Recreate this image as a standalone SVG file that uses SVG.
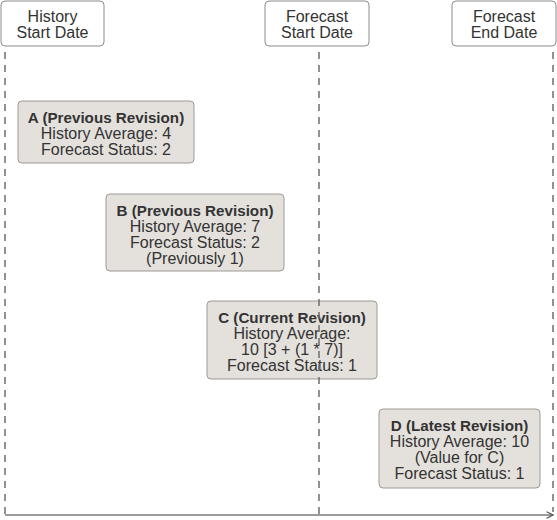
<svg xmlns="http://www.w3.org/2000/svg" width="557" height="520" viewBox="0 0 557 520">
<defs>
<style>
.hdr{fill:#fff;stroke:#8f8b87;stroke-width:1}
.box{fill:#e4e1dd;stroke:#9e9a95;stroke-width:1}
text{font-family:"Liberation Sans",Arial,sans-serif;font-size:16px;fill:#333;text-anchor:middle}
.b{font-weight:bold;font-size:15.2px}
.dash{stroke:#6e6e6e;stroke-width:1.5;stroke-dasharray:7 6;fill:none}
.axis{stroke:#7a7a7a;stroke-width:1.5;fill:none}
</style>
<marker id="arr" viewBox="0 0 10 10" refX="9" refY="5" markerWidth="8" markerHeight="8" markerUnits="userSpaceOnUse" orient="auto">
<path d="M1,1 L9,5 L1,9" fill="none" stroke="#555" stroke-width="1.5"/>
</marker>
</defs>
<g id="header-history">
<rect class="hdr" x="1" y="1" width="103" height="45" rx="4"/>
<text x="52.5" y="22">History</text>
<text x="52.5" y="38">Start Date</text>
</g>
<g id="header-forecast-start">
<rect class="hdr" x="265" y="1" width="104" height="45" rx="4"/>
<text x="317" y="22">Forecast</text>
<text x="317" y="38">Start Date</text>
</g>
<g id="header-forecast-end">
<rect class="hdr" x="452" y="1" width="104" height="45" rx="4"/>
<text x="504" y="22">Forecast</text>
<text x="504" y="38">End Date</text>
</g>
<g id="node-a">
<rect class="box" x="18" y="101" width="176" height="62" rx="4"/>
<text class="b" x="106" y="123">A (Previous Revision)</text>
<text x="106" y="139">History Average: 4</text>
<text x="106" y="155">Forecast Status: 2</text>
</g>
<g id="node-b">
<rect class="box" x="106" y="194" width="178" height="77" rx="4"/>
<text class="b" x="195" y="216">B (Previous Revision)</text>
<text x="195" y="232">History Average: 7</text>
<text x="195" y="248">Forecast Status: 2</text>
<text x="195" y="264">(Previously 1)</text>
</g>
<g id="node-c">
<rect class="box" x="207" y="301" width="170" height="78" rx="4"/>
<text class="b" x="292" y="323">C (Current Revision)</text>
<text x="292" y="339">History Average:</text>
<text x="292" y="355">10 [3 + (1 * 7)]</text>
<text x="292" y="371">Forecast Status: 1</text>
</g>
<g id="node-d">
<rect class="box" x="379" y="409" width="161" height="79" rx="4"/>
<text class="b" x="459.5" y="431">D (Latest Revision)</text>
<text x="459.5" y="447">History Average: 10</text>
<text x="459.5" y="463">(Value for C)</text>
<text x="459.5" y="479">Forecast Status: 1</text>
</g>
<g id="connectors">
<line class="dash" x1="5" y1="52" x2="5" y2="515"/>
<line class="dash" x1="319" y1="52" x2="319" y2="515"/>
<line class="dash" x1="553" y1="52" x2="553" y2="512"/>
<line class="axis" x1="5" y1="515" x2="553" y2="515" marker-end="url(#arr)"/>
</g>
</svg>
